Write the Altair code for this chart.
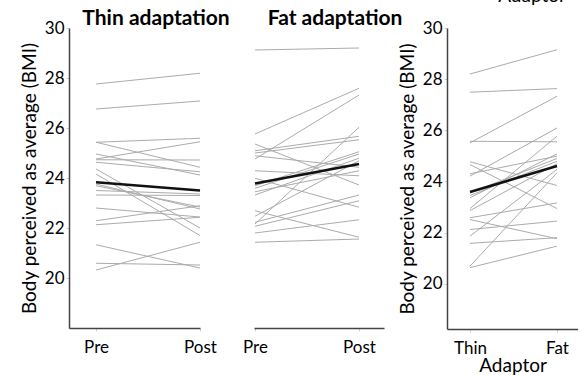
import altair as alt
import pandas as pd

# ---- data ----
thin_pre = [27.76, 26.76, 25.43, 25.43, 24.96, 24.76, 24.73, 24.63, 24.36, 24.16,
            23.76, 23.69, 23.50, 23.32, 22.80, 22.29, 22.13, 21.33, 20.59, 20.32]
thin_post = [28.19, 27.08, 25.59, 24.43, 24.12, 25.45, 24.72, 24.25, 22.00, 21.70,
             22.76, 22.84, 23.36, 23.30, 22.44, 22.89, 22.43, 20.40, 20.52, 21.43]
fat_pre = [29.12, 25.76, 25.36, 25.09, 25.00, 24.89, 24.76, 24.29, 23.99, 23.69,
           23.59, 23.45, 23.32, 22.69, 22.47, 22.23, 22.16, 22.07, 21.80, 21.43]
fat_post = [29.20, 27.59, 23.72, 25.67, 25.53, 24.43, 27.32, 24.09, 22.83, 25.05,
            24.96, 24.29, 24.79, 21.63, 24.69, 23.32, 26.03, 23.09, 22.33, 21.56]
adaptor_thin = [28.20, 27.49, 25.51, 25.57, 24.77, 24.66, 24.30, 24.21, 23.45, 23.36,
                22.94, 22.86, 22.58, 22.51, 22.12, 21.86, 21.58, 20.69, 20.63, 23.55]
adaptor_fat = [29.15, 27.63, 27.33, 25.55, 23.84, 22.94, 24.99, 26.09, 24.79, 25.08,
               25.77, 24.69, 23.16, 21.76, 22.45, 24.47, 21.80, 24.34, 21.47, 24.90]
thin_mean = [23.83, 23.50]
fat_mean = [23.78, 24.56]
adaptor_mean = [23.59, 24.60]

prepost_labels = ["Pre", "Post"]
adaptor_labels = ["Thin", "Fat"]
panel_titles = ["Thin adaptation", "Fat adaptation"]
adaptor_title = "Adaptor"
y_title = "Body perceived as average (BMI)"
y_ticks = [20, 22, 24, 26, 28, 30]

FONT = "Lato"
GREY = "#ababab"


def long_df(a, b):
    rows = []
    for i, (p, q) in enumerate(zip(a, b)):
        rows.append({"pid": i, "x": 0, "v": p})
        rows.append({"pid": i, "x": 1, "v": q})
    return pd.DataFrame(rows)


def panel(a, b, mean, labels, xdom, ydom, width, height, show_y,
          xtitle=None, texts=()):
    df = long_df(a, b)
    mdf = pd.DataFrame({"x": [0, 1], "v": mean})
    lab = f"datum.value == 0 ? '{labels[0]}' : '{labels[1]}'"
    xax = alt.Axis(values=[0, 1], labelExpr=lab, title=xtitle, grid=False,
                   tickSize=3, tickColor="#d0d0d0", labelPadding=8,
                   titlePadding=0, labelFlush=False)
    xs = alt.Scale(domain=xdom, nice=False, zero=False)
    ys = alt.Scale(domain=ydom, nice=False, zero=False)
    if show_y:
        yax = alt.Axis(values=y_ticks, title=y_title, grid=False, tickSize=3,
                       tickColor="#d0d0d0", labelPadding=2, titlePadding=5)
    else:
        yax = None
    lines = alt.Chart(df).mark_line(color=GREY, strokeWidth=1).encode(
        x=alt.X("x:Q", scale=xs, axis=xax),
        y=alt.Y("v:Q", scale=ys, axis=yax),
        detail="pid:N",
    )
    mline = alt.Chart(mdf).mark_line(color="#111111", strokeWidth=2.6).encode(
        x=alt.X("x:Q", scale=xs),
        y=alt.Y("v:Q", scale=ys),
    )
    layers = [lines, mline]
    for (txt, px, py, size, weight) in texts:
        t = alt.Chart(pd.DataFrame({"t": [txt]})).mark_text(
            font=FONT, fontSize=size, fontWeight=weight, color="black",
            align="center", baseline="alphabetic"
        ).encode(text="t:N", x=alt.value(px), y=alt.value(py))
        layers.append(t)
    return alt.layer(*layers).properties(width=width, height=height)


left = panel(thin_pre, thin_post, thin_mean, prepost_labels,
             [-0.26, 1.0], [18.0, 30], 131, 300, True,
             texts=[(panel_titles[0], 87, -3, 21, "bold")])
middle = panel(fat_pre, fat_post, fat_mean, prepost_labels,
               [-0.0096, 1.24], [18.0, 30], 130, 300, False,
               texts=[(panel_titles[1], 81, -3, 21, "bold")])
right = panel(adaptor_thin, adaptor_fat, adaptor_mean, adaptor_labels,
              [-0.264, 1.241], [18.23, 30], 131, 301, True,
              xtitle=adaptor_title,
              texts=[(adaptor_title, 85, -26, 19, "normal")])

inner = alt.hconcat(left, middle, spacing=12)
chart = alt.hconcat(inner, right, spacing=-5).properties(
    padding={"left": 20, "top": -13, "right": 0, "bottom": 0},
    background="white",
).configure_view(stroke=None).configure_axis(
    domainColor="#444444", domainWidth=1.5,
    labelFont=FONT, labelFontSize=17, labelColor="black",
    titleFont=FONT, titleFontSize=19, titleFontWeight="normal", titleColor="black",
)

chart.save("out.html", embed_options={"renderer": "svg", "actions": False})
